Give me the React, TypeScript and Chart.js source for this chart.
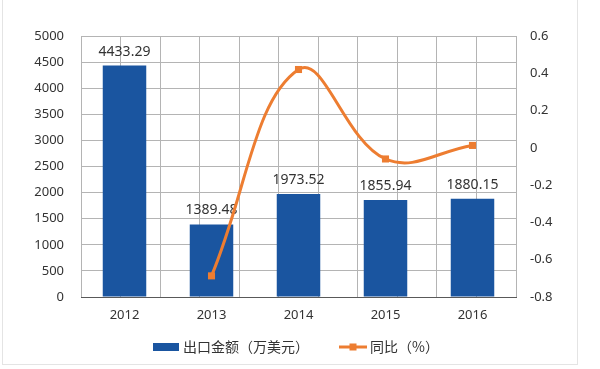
import React, { useEffect, useRef } from "react";
import { Chart, registerables } from "chart.js";

Chart.register(...registerables);

const categories = ["2012", "2013", "2014", "2015", "2016"];
const exportValues = [4433.29, 1389.48, 1973.52, 1855.94, 1880.15];
const yoyValues: (number | null)[] = [null, -0.6866, 0.4203, -0.0596, 0.0130];
const barLabels = ["4433.29", "1389.48", "1973.52", "1855.94", "1880.15"];
const seriesNames = ["出口金额（万美元）", "同比（%）"];

const BAR_COLOR = "#1A55A0";
const LINE_COLOR = "#ED7D31";
const TEXT_COLOR = "#333333";
const FONT = "'Noto Sans', 'Noto Sans CJK SC', sans-serif";
const CJK_FONT = "'Noto Sans CJK SC', 'Noto Sans', sans-serif";

const labelPlugin = {
  id: "barLabels",
  afterDatasetDraw(chart: any, args: any) {
    if (args.index !== 0) return;
    const ctx = chart.ctx;
    const meta = chart.getDatasetMeta(0);
    ctx.save();
    ctx.font = `14px ${FONT}`;
    ctx.fillStyle = TEXT_COLOR;
    ctx.textAlign = "center";
    ctx.textBaseline = "middle";
    meta.data.forEach((el: any, i: number) => {
      ctx.fillText(barLabels[i], el.x, el.y - 14);
    });
    ctx.restore();
  },
};

const legendPlugin = {
  id: "customLegend",
  afterDraw(chart: any) {
    const ctx = chart.ctx;
    const y = 347;
    ctx.save();
    ctx.font = `14px ${CJK_FONT}`;
    ctx.textBaseline = "middle";
    ctx.textAlign = "left";
    ctx.fillStyle = BAR_COLOR;
    ctx.fillRect(153, y - 4, 26, 8);
    ctx.fillStyle = TEXT_COLOR;
    ctx.fillText(seriesNames[0], 183, y);
    ctx.strokeStyle = LINE_COLOR;
    ctx.lineWidth = 3;
    ctx.beginPath();
    ctx.moveTo(339, y);
    ctx.lineTo(367, y);
    ctx.stroke();
    ctx.fillStyle = LINE_COLOR;
    ctx.fillRect(353 - 3.5, y - 3.5, 7, 7);
    ctx.fillStyle = TEXT_COLOR;
    ctx.fillText(seriesNames[1], 370, y);
    ctx.restore();
  },
};

export default function App() {
  const ref = useRef<HTMLCanvasElement>(null);
  useEffect(() => {
    if (!ref.current) return;
    const chart = new Chart(ref.current, {
      type: "bar",
      data: {
        labels: categories,
        datasets: [
          {
            type: "bar",
            label: seriesNames[0],
            data: exportValues,
            backgroundColor: BAR_COLOR,
            yAxisID: "y",
            xAxisID: "x",
            barPercentage: 0.5,
            categoryPercentage: 1,
            order: 1,
          },
          {
            type: "line",
            label: seriesNames[1],
            data: yoyValues,
            borderColor: LINE_COLOR,
            backgroundColor: LINE_COLOR,
            borderWidth: 3,
            tension: 0.4,
            pointStyle: "rect",
            pointRadius: 5,
            pointBorderWidth: 0,
            yAxisID: "y1",
            xAxisID: "x",
            order: 0,
          } as any,
        ],
      },
      options: {
        responsive: false,
        animation: false,
        layout: { padding: { top: 36, left: 0, right: 0, bottom: 0 } },
        plugins: {
          legend: { display: false },
          tooltip: { enabled: false },
        },
        scales: {
          x: {
            type: "category",
            position: "bottom",
            grid: { display: false, drawTicks: false },
            border: { display: true, color: "#595959", width: 1 },
            ticks: { font: { size: 13, family: FONT }, color: TEXT_COLOR, padding: 10 },
            afterFit(scale: any) {
              scale.height = 72;
            },
          },
          x2: {
            type: "linear",
            position: "bottom",
            min: -0.5,
            max: 4.5,
            ticks: { display: false, stepSize: 0.5 },
            grid: { color: "#b4b4b4", drawTicks: false, lineWidth: 1 },
            border: { display: false },
            afterFit(scale: any) {
              scale.height = 0;
            },
          },
          y: {
            position: "left",
            min: 0,
            max: 5000,
            ticks: {
              stepSize: 500,
              font: { size: 13, family: FONT },
              color: TEXT_COLOR,
              padding: 17,
              callback: (v: any) => String(v),
            },
            grid: { color: "#b4b4b4", drawTicks: false },
            border: { display: false },
            afterFit(scale: any) {
              scale.width = 81;
            },
          },
          y1: {
            position: "right",
            min: -0.8,
            max: 0.6,
            ticks: {
              stepSize: 0.2,
              font: { size: 13, family: FONT },
              color: TEXT_COLOR,
              padding: 14,
              callback: (v: any) => String(Number(Number(v).toFixed(1))),
            },
            grid: { display: false, drawTicks: false },
            border: { display: false },
            afterFit(scale: any) {
              scale.width = 84;
            },
          },
        },
      },
      plugins: [labelPlugin, legendPlugin],
    });
    return () => chart.destroy();
  }, []);

  return (
    <div style={{ position: "fixed", left: 0, top: 0, width: 600, height: 369, background: "#fff" }}>
      <canvas ref={ref} width={600} height={369} style={{ display: "block" }} />
      <div
        style={{
          position: "absolute",
          left: 2,
          top: -1,
          width: 574,
          height: 364,
          border: "1px solid #e4e4e4",
          pointerEvents: "none",
        }}
      />
    </div>
  );
}
